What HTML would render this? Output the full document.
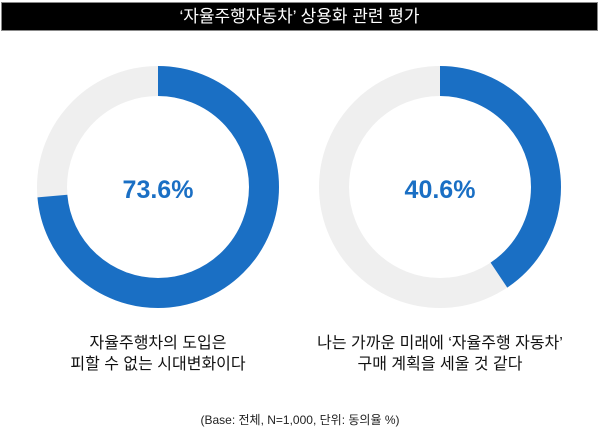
<!DOCTYPE html>
<html><head><meta charset="utf-8"><style>
body{margin:0;width:600px;height:437px;background:#fff;font-family:"Liberation Sans","Noto Sans CJK KR",sans-serif;position:relative;overflow:hidden}
.title{position:absolute;left:1px;top:2px;width:597px;height:29px;background:#000;border:1px solid #888;box-sizing:border-box;color:#fff;font-size:17px;text-align:center;line-height:27px}
.lbl{position:absolute;font-size:16px;color:#111;text-align:center;line-height:21px}
.foot{position:absolute;left:0;width:600px;top:411px;font-size:12px;text-align:center;color:#222}
</style></head><body>
<div class="title">‘자율주행자동차’ 상용화 관련 평가</div>
<svg width="600" height="437" style="position:absolute;left:0;top:0">
<circle cx="158" cy="187" r="106" fill="none" stroke="#efefef" stroke-width="30"/>
<circle cx="158" cy="187" r="106" fill="none" stroke="#1a6fc4" stroke-width="30" stroke-dasharray="490.2 1000" transform="rotate(-90 158 187)"/>
<circle cx="440" cy="187" r="106" fill="none" stroke="#efefef" stroke-width="30"/>
<circle cx="440" cy="187" r="106" fill="none" stroke="#1a6fc4" stroke-width="30" stroke-dasharray="270.4 1000" transform="rotate(-90 440 187)"/>
<text x="158" y="198" text-anchor="middle" font-size="25" font-weight="bold" fill="#1a6fc4" font-family="Liberation Sans, sans-serif">73.6%</text>
<text x="440" y="198" text-anchor="middle" font-size="25" font-weight="bold" fill="#1a6fc4" font-family="Liberation Sans, sans-serif">40.6%</text>
</svg>
<div class="lbl" style="left:58px;width:200px;top:333px">자율주행차의 도입은<br>피할 수 없는 시대변화이다</div>
<div class="lbl" style="left:290px;width:300px;top:333px">나는 가까운 미래에 ‘자율주행 자동차’<br>구매 계획을 세울 것 같다</div>
<div class="foot">(Base: 전체, N=1,000, 단위: 동의율 %)</div>
</body></html>
